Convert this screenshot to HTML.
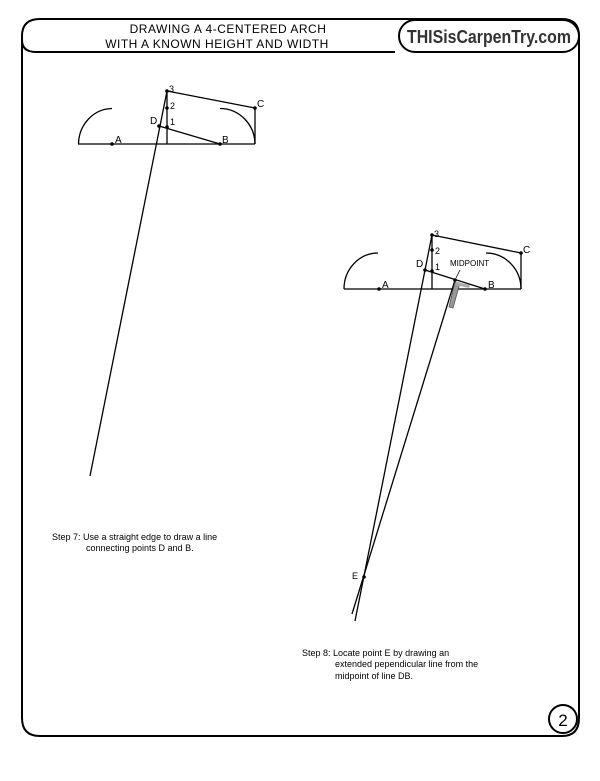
<!DOCTYPE html>
<html><head><style>
body{margin:0;background:#fff;width:600px;height:776px;overflow:hidden}
svg text{font-family:"Liberation Sans",sans-serif}
</style></head><body>
<svg width="600" height="776" viewBox="0 0 600 776" xmlns="http://www.w3.org/2000/svg">
<rect width="600" height="776" fill="#fff"/>
<path d="M22 52 L22 718 Q22 736 40 736 L562 736 Q579 736 579 718 L579 36 Q579 19 562 19 L40 19 Q22 19 22 36 Z" fill="none" stroke="#000" stroke-width="2"/>
<path d="M22 40 Q22 52 36 52 L395 52" fill="none" stroke="#000" stroke-width="2"/>
<rect x="399" y="20" width="180" height="32" rx="16" fill="#fff" stroke="#000" stroke-width="2"/>
<text x="228" y="33" font-size="12" text-anchor="middle" letter-spacing="0.5">DRAWING A 4-CENTERED ARCH</text>
<text x="217" y="48" font-size="12" text-anchor="middle" letter-spacing="0.5">WITH A KNOWN HEIGHT AND WIDTH</text>
<text x="489" y="43" font-size="18" font-weight="bold" text-anchor="middle" fill="#333" textLength="164" lengthAdjust="spacingAndGlyphs">THISisCarpenTry.com</text>
<circle cx="563" cy="719" r="14" fill="#fff" stroke="#000" stroke-width="2"/>
<text x="563" y="726" font-size="17" text-anchor="middle">2</text>
<g stroke="#000" stroke-width="1.3" fill="none">
<line x1="78" y1="144" x2="255" y2="144"/>
<path d="M78.5 144 A34 36 0 0 1 112 108.5"/>
<path d="M220 108.5 A35 36 0 0 1 255 144"/>
<line x1="255" y1="108" x2="255" y2="144"/>
<line x1="167" y1="91" x2="167" y2="144"/>
<line x1="167" y1="91" x2="255" y2="108"/>
<line x1="159" y1="126" x2="220" y2="144"/>
<line x1="167" y1="91" x2="90" y2="476"/>
<line x1="344" y1="289" x2="521" y2="289"/>
<path d="M344 289 A34 36 0 0 1 378 253"/>
<path d="M486 253 A35 36 0 0 1 521 289"/>
<line x1="521" y1="253" x2="521" y2="289"/>
<line x1="432" y1="235" x2="432" y2="289"/>
<line x1="432" y1="235" x2="521" y2="253"/>
<line x1="425" y1="270" x2="485" y2="289"/>
<line x1="432" y1="235" x2="355" y2="621"/>
<line x1="455" y1="280" x2="352" y2="614"/>
<line x1="456" y1="278" x2="460" y2="270" stroke-width="0.8"/>
</g>
<polygon points="455,282 460,283 453,308 449,307" fill="#999" stroke="#555" stroke-width="0.8"/>
<polygon points="456,282 470,285 469,288 456,285" fill="#aaa"/>
<g fill="#000">
<circle cx="167" cy="91" r="1.8"/><circle cx="167" cy="108" r="1.8"/><circle cx="167" cy="127" r="1.8"/>
<circle cx="159" cy="126" r="1.8"/><circle cx="255" cy="108" r="1.8"/><circle cx="112" cy="144" r="1.8"/><circle cx="220" cy="144" r="1.8"/>
<circle cx="432" cy="235" r="1.8"/><circle cx="432" cy="250" r="1.8"/><circle cx="432" cy="271" r="1.8"/>
<circle cx="425" cy="270" r="1.8"/><circle cx="521" cy="253" r="1.8"/><circle cx="379" cy="289" r="1.8"/><circle cx="485" cy="289" r="1.8"/>
<circle cx="455" cy="280" r="1.8"/><circle cx="364" cy="577" r="1.8"/>
</g>
<g font-size="9">
<text x="169" y="92">3</text><text x="170" y="109">2</text><text x="170" y="125">1</text>
<text x="150" y="124" font-size="10">D</text><text x="257" y="107" font-size="10">C</text>
<text x="115" y="143" font-size="10">A</text><text x="222" y="143" font-size="10">B</text>
<text x="434" y="237">3</text><text x="435" y="254">2</text><text x="435" y="270">1</text>
<text x="416" y="267" font-size="10">D</text><text x="523" y="253" font-size="10">C</text>
<text x="382" y="288" font-size="10">A</text><text x="488" y="288" font-size="10">B</text>
<text x="450" y="266" font-size="8">MIDPOINT</text>
<text x="352" y="579" font-size="9">E</text>
</g>
<g font-size="9">
<text x="52" y="540">Step 7: Use a straight edge to draw a line</text>
<text x="86" y="551">connecting points D and B.</text>
<text x="302" y="656">Step 8: Locate point E by drawing an</text>
<text x="335" y="667">extended pependicular line from the</text>
<text x="335" y="679">midpoint of line DB.</text>
</g>
</svg>
</body></html>
